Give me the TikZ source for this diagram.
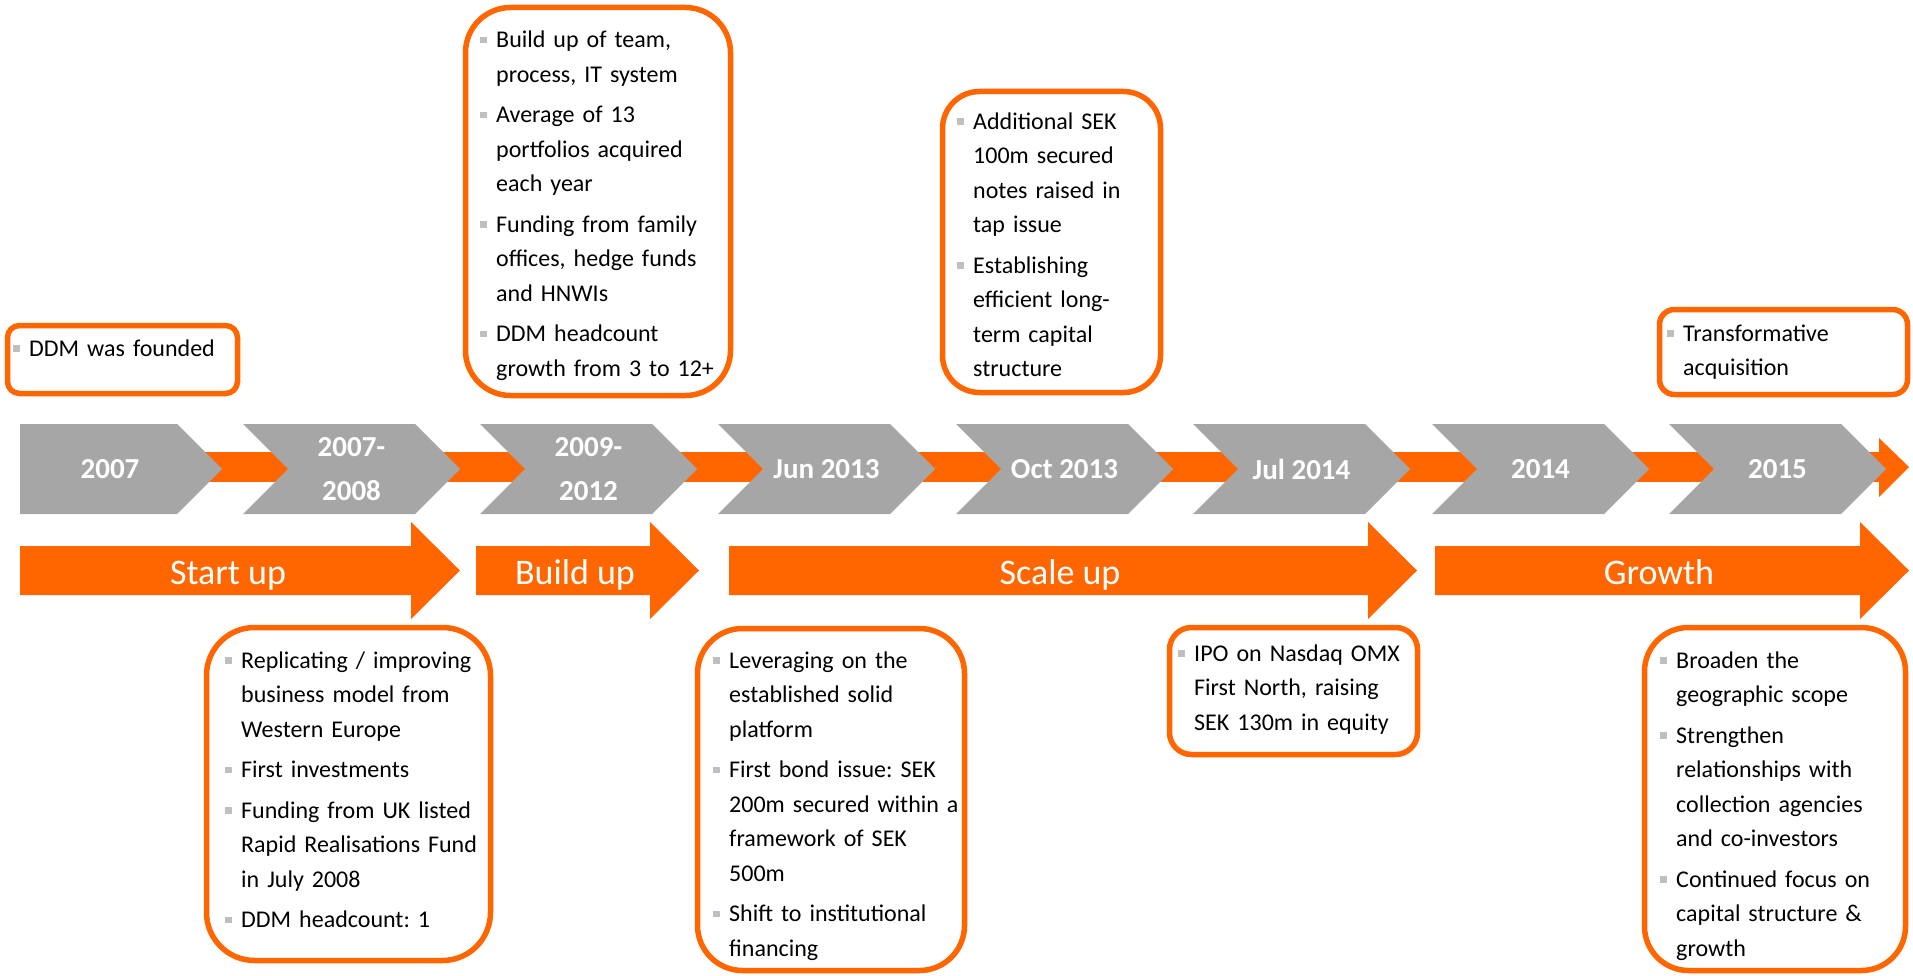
\documentclass[tikz,border=0pt]{standalone}
\usepackage{fontspec}
\setmainfont{Carlito}
\definecolor{orangeC}{RGB}{255,102,0}
\definecolor{chevgray}{RGB}{166,166,166}
\definecolor{bulgray}{RGB}{191,191,191}
\newcommand\bitem{\parskip=6pt\par\noindent\hangindent=16pt\hangafter=1\makebox[16pt][l]{\textcolor{bulgray}{\rule[4.5pt]{6.5pt}{6.5pt}}}\strut}
\newcommand\chevshape[1]{\fill[chevgray] (#1,424) -- ++(172,0) -- ++(45,45) -- ++(-45,45) -- ++(-172,0) -- ++(45,-45) -- cycle;}
\newcommand\phasearrow[3]{\fill[orangeC] (#1,546) -- (#2,546) -- (#2,522) -- (#3,570.5) -- (#2,619) -- (#2,595) -- (#1,595) -- cycle;}
\frenchspacing
\begin{document}
\begin{tikzpicture}[x=1pt,y=-1pt,
  obox/.style={draw=orangeC, line width=5.5pt, fill=white, inner sep=0pt},
  btext/.style={anchor=north west, inner sep=0pt, text width=320pt, font=\fontsize{24}{34.5}\selectfont\frenchspacing, text=black},
  chevtext/.style={text=white, font=\bfseries\fontsize{29}{44}\selectfont, align=center, inner sep=0pt},
  phasetext/.style={text=white, font=\fontsize{36}{40}\selectfont, anchor=base, inner sep=0pt}]
\useasboundingbox (0,0) rectangle (1913,976);

% timeline bar
\fill[orangeC] (20,452) rectangle (1879,482);
\fill[orangeC] (1879,438) -- (1909,467) -- (1879,497) -- cycle;

% chevrons
\fill[chevgray] (20,424) -- (177,424) -- (222,469) -- (177,514) -- (20,514) -- cycle;
\node[chevtext] (c1) at (110,469) {2007};
\chevshape{243}
\node[chevtext] (c2) at (351.5,469) {2007-\\2008};
\chevshape{480}
\node[chevtext] (c3) at (588.5,469) {2009-\\2012};
\chevshape{718}
\node[chevtext] (c4) at (826.5,469) {Jun 2013};
\chevshape{956}
\node[chevtext] (c5) at (1064.5,469) {Oct 2013};
\chevshape{1193}
\node[chevtext] (c6) at (1301.5,469) {Jul 2014};
\chevshape{1432}
\node[chevtext] (c7) at (1540.5,469) {2014};
\chevshape{1669}
\node[chevtext] (c8) at (1777.5,469) {2015};

% phase arrows
\phasearrow{20}{411}{460}
\node[phasetext] (pStart) at (228,584) {Start up};
\phasearrow{476}{650}{699}
\node[phasetext] (pBuild) at (575,584) {Build up};
\phasearrow{729}{1368}{1417}
\node[phasetext] (pScale) at (1060,584) {Scale up};
\phasearrow{1435}{1860}{1909}
\node[phasetext] (pGrowth) at (1659,584) {Growth};

% boxes
\node[obox, minimum width=230pt, minimum height=68pt, rounded corners=12pt] (bA) at (122.5,359.5) {};
\node[btext] (tA) at (13,315.5) {\bitem DDM was founded\par};

\node[obox, minimum width=265pt, minimum height=388pt, rounded corners=45pt] (bB) at (598,201.5) {};
\node[btext] (tB) at (480,7) {\bitem Build up of team,\newline process, IT system
\bitem Average of 13\newline portfolios acquired\newline each year
\bitem Funding from family\newline offices, hedge funds\newline and HNWIs
\bitem DDM headcount\newline growth from 3 to 12+\par};

\node[obox, minimum width=218pt, minimum height=301pt, rounded corners=37pt] (bC) at (1051.5,242) {};
\node[btext] (tC) at (957,88.5) {\bitem Additional SEK\newline 100m secured\newline notes raised in\newline tap issue
\bitem Establishing\newline efficient long-\newline term capital\newline structure\par};

\node[obox, minimum width=248pt, minimum height=85pt, rounded corners=15pt] (bD) at (1783.5,352) {};
\node[btext] (tD) at (1667,300.5) {\bitem Transformative\newline acquisition\par};

\node[obox, minimum width=284pt, minimum height=333pt, rounded corners=48pt] (bE) at (348.5,794) {};
\node[btext] (tE) at (225,627.5) {\bitem Replicating / improving\newline business model from\newline Western Europe
\bitem First investments
\bitem Funding from UK listed\newline Rapid Realisations Fund\newline in July 2008
\bitem DDM headcount: 1\par};

\node[obox, minimum width=267pt, minimum height=342pt, rounded corners=45pt] (bF) at (831,799.5) {};
\node[btext] (tF) at (713,627.5) {\bitem Leveraging on the\newline established solid\newline platform
\bitem First bond issue: SEK\newline 200m secured within a\newline framework of SEK\newline 500m
\bitem Shift to institutional\newline financing\par};

\node[obox, minimum width=248pt, minimum height=127pt, rounded corners=22pt] (bG) at (1293.5,691) {};
\node[btext] (tG) at (1178,620.5) {\bitem IPO on Nasdaq OMX\newline First North, raising\newline SEK 130m in equity\par};

\node[obox, minimum width=261pt, minimum height=343pt, rounded corners=44pt] (bH) at (1775,799) {};
\node[btext] (tH) at (1660,627.5) {\bitem Broaden the\newline geographic scope
\bitem Strengthen\newline relationships with\newline collection agencies\newline and co-investors
\bitem Continued focus on\newline capital structure \&\newline growth\par};
\end{tikzpicture}
\end{document}
